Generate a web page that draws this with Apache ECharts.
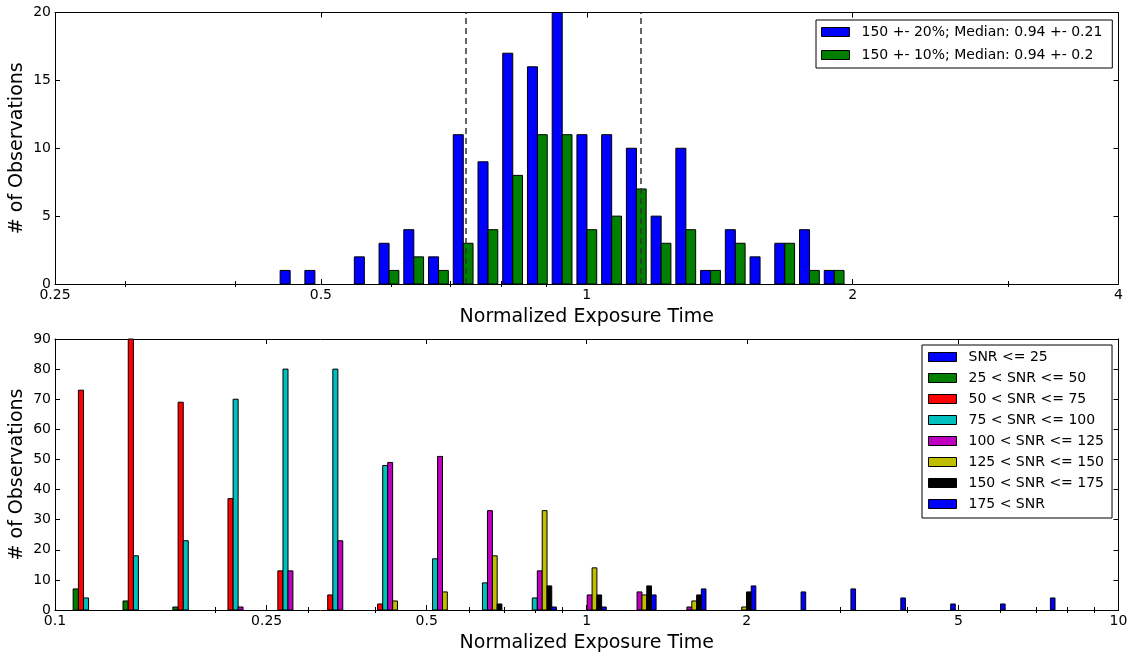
<!DOCTYPE html>
<html><head><meta charset="utf-8">
<script src="https://cdn.jsdelivr.net/npm/echarts@6/dist/echarts.min.js"></script>
<style>html,body{margin:0;padding:0;background:#fff}#c{width:1129px;height:657px}</style>
</head><body><div id="c"></div>
<script>
// ---------- Top panel: histogram (log-spaced bins) ----------
const topBinStart = 0.25, topBinEnd = 4, topBinCount = 43;
const topNames = ['150 +- 20%; Median: 0.94 +- 0.21', '150 +- 10%; Median: 0.94 +- 0.2'];
const topColors = ['#0000ff', '#008000'];
const topCounts20 = [0,0,0,0,0,0,0,0,0, 1,1,0,2,3,4,2,11,9,17,16,20,11,11,10,5,10,1,4,2,3,4,1, 0,0,0,0,0,0,0,0,0,0,0];
const topCounts10 = [0,0,0,0,0,0,0,0,0, 0,0,0,0,1,2,1,3,4,8,11,11,4,5,7,3,4,1,3,0,3,1,1, 0,0,0,0,0,0,0,0,0,0,0];
const topMedianLines = [0.726, 1.145];
const topMajorTicks = [0.25, 0.5, 1, 2, 4];
const topMinorTicks = [0.3, 0.4, 0.6, 0.7, 0.8, 0.9, 3];

// ---------- Bottom panel: histogram by SNR ----------
const botBinStart = 0.1032, botBinRatio = 1.241, botBinCount = 20;
const snrNames = ['SNR <= 25','25 < SNR <= 50','50 < SNR <= 75','75 < SNR <= 100','100 < SNR <= 125','125 < SNR <= 150','150 < SNR <= 175','175 < SNR'];
const snrColors = ['#0000ff','#008000','#ff0000','#00bfbf','#bf00bf','#bfbf00','#000000','#0000ff'];
const snr25  = [0,0,0,0,0,0,0,0,0,0,0,0,0,0,0,0,0,0,0,0];
const snr50  = [7,3,1,0,0,0,0,0,0,0,0,0,0,0,0,0,0,0,0,0];
const snr75  = [73,90,69,37,13,5,2,0,0,0,0,0,0,0,0,0,0,0,0,0];
const snr100 = [4,18,23,70,80,80,48,17,9,4,0,0,0,0,0,0,0,0,0,0];
const snr125 = [0,0,0,1,13,23,49,51,33,13,5,6,1,0,0,0,0,0,0,0];
const snr150 = [0,0,0,0,0,0,3,6,18,33,14,5,3,1,0,0,0,0,0,0];
const snr175 = [0,0,0,0,0,0,0,0,2,8,5,8,5,6,0,0,0,0,0,0];
const snrHigh= [0,0,0,0,0,0,0,0,0,1,1,5,7,8,6,7,4,2,2,4];
const snrSeries = [snr25, snr50, snr75, snr100, snr125, snr150, snr175, snrHigh];
const botMajorTicks = [0.1, 0.25, 0.5, 1, 2, 5, 10];
const botMinorTicks = [0.2, 0.3, 0.4, 0.6, 0.7, 0.8, 0.9, 3, 4, 6, 7, 8, 9];

// ---------- helpers ----------
const FONT = 'DejaVu Sans';
function topEdge(k){ return topBinStart * Math.pow(topBinEnd / topBinStart, k / topBinCount); }
function botEdge(k){ return botBinStart * Math.pow(botBinRatio, k); }
function binData(counts, edgeFn){ return counts.map((c, k) => [edgeFn(k), edgeFn(k + 1), c]); }

function barRenderer(idx, nx, color){
  return function(params, api){
    const a = api.value(0), b = api.value(1), v = api.value(2);
    if (!v) return null;
    const tw = b - a, dr = 0.8, w = dr * tw / nx;
    const left = a + 0.5 * tw - 0.5 * dr * tw + idx * w;
    const p0 = api.coord([left, v]);
    const p1 = api.coord([left + w, 0]);
    return { type: 'rect',
      shape: { x: p0[0], y: p0[1], width: p1[0] - p0[0], height: p1[1] - p0[1] },
      style: { fill: color, stroke: '#000', lineWidth: 1 } };
  };
}

function xAxes(gridIndex, min, max, major, minor){
  const common = { type: 'log', logBase: 10, gridIndex, min, max, splitLine: { show: false } };
  const line = { show: true, onZero: false, lineStyle: { color: '#000', width: 1 } };
  return [
    Object.assign({}, common, { position: 'bottom', axisLine: line,
      axisTick: { show: true, inside: true, length: 5, customValues: major, lineStyle: { color: '#000' } },
      axisLabel: { show: true, customValues: major, margin: 4, color: '#000', fontSize: 14, fontFamily: FONT,
        showMinLabel: true, showMaxLabel: true, hideOverlap: false, formatter: v => String(v) },
      name: 'Normalized Exposure Time', nameLocation: 'middle', nameGap: 24, nameMoveOverlap: false,
      nameTextStyle: { fontSize: 19, fontFamily: FONT, color: '#000' } }),
    Object.assign({}, common, { position: 'bottom', axisLine: { show: false },
      axisTick: { show: true, inside: true, length: 3, customValues: minor, lineStyle: { color: '#000' } },
      axisLabel: { show: false } }),
    Object.assign({}, common, { position: 'top', axisLine: line,
      axisTick: { show: true, inside: true, length: 5, customValues: major, lineStyle: { color: '#000' } },
      axisLabel: { show: false } }),
    Object.assign({}, common, { position: 'top', axisLine: { show: false },
      axisTick: { show: true, inside: true, length: 3, customValues: minor, lineStyle: { color: '#000' } },
      axisLabel: { show: false } })
  ];
}

function yAxes(gridIndex, max, interval){
  const line = { show: true, onZero: false, lineStyle: { color: '#000', width: 1 } };
  return [
    { type: 'value', gridIndex, position: 'left', min: 0, max, interval, splitLine: { show: false },
      axisLine: line, axisTick: { show: true, inside: true, length: 5, lineStyle: { color: '#000' } },
      axisLabel: { margin: 4, color: '#000', fontSize: 14, fontFamily: FONT, showMinLabel: true, showMaxLabel: true },
      name: '# of Observations', nameLocation: 'middle', nameRotate: 90, nameGap: 28, nameMoveOverlap: false,
      nameTextStyle: { fontSize: 19, fontFamily: FONT, color: '#000' } },
    { type: 'value', gridIndex, position: 'right', min: 0, max, interval, splitLine: { show: false },
      axisLine: line, axisTick: { show: true, inside: true, length: 5, lineStyle: { color: '#000' } },
      axisLabel: { show: false } }
  ];
}

const series = [];
[topCounts20, topCounts10].forEach((counts, i) => {
  const s = {
    type: 'custom', name: topNames[i], xAxisIndex: 0, yAxisIndex: 0,
    encode: { x: [0, 1], y: 2 },
    itemStyle: { color: topColors[i], borderColor: '#000', borderWidth: 1 },
    renderItem: barRenderer(i, 2, topColors[i]),
    data: binData(counts, topEdge)
  };
  if (i === 0) {
    s.markLine = { silent: true, symbol: ['none', 'none'], label: { show: false },
      lineStyle: { color: '#333', type: [6, 4], width: 1.5 },
      data: topMedianLines.map(v => ({ xAxis: v })) };
  }
  series.push(s);
});
snrSeries.forEach((counts, i) => {
  series.push({
    type: 'custom', name: snrNames[i], xAxisIndex: 4, yAxisIndex: 2,
    encode: { x: [0, 1], y: 2 },
    itemStyle: { color: snrColors[i], borderColor: '#000', borderWidth: 1 },
    renderItem: barRenderer(i, 8, snrColors[i]),
    data: binData(counts, botEdge)
  });
});

const legendItem = (n, c) => ({ name: n, icon: 'rect', itemStyle: { color: c, borderColor: '#000', borderWidth: 1 } });

const option = {
  animation: false,
  backgroundColor: '#fff',
  textStyle: { fontFamily: FONT },
  grid: [
    { left: 55, width: 1063.5, top: 12.5, height: 271.5, outerBoundsMode: 'none', containLabel: false },
    { left: 55, width: 1063.5, top: 339, height: 271, outerBoundsMode: 'none', containLabel: false }
  ],
  xAxis: [].concat(xAxes(0, 0.25, 4, topMajorTicks, topMinorTicks), xAxes(1, 0.1, 10, botMajorTicks, botMinorTicks)),
  yAxis: [].concat(yAxes(0, 20, 5), yAxes(1, 90, 10)),
  legend: [
    { orient: 'vertical', left: 816, top: 20, padding: [5, 10, 6, 5], itemWidth: 28, itemHeight: 9, itemGap: 9,
      borderColor: '#000', borderWidth: 1, backgroundColor: '#fff', selectedMode: false,
      textStyle: { fontSize: 14, fontFamily: FONT, color: '#000', padding: [0, 0, 0, 7] },
      data: topNames.map((n, i) => legendItem(n, topColors[i])) },
    { orient: 'vertical', left: 922, top: 345, padding: [5, 8, 7, 6], itemWidth: 28, itemHeight: 9, itemGap: 7,
      borderColor: '#000', borderWidth: 1, backgroundColor: '#fff', selectedMode: false,
      textStyle: { fontSize: 14, fontFamily: FONT, color: '#000', padding: [0, 0, 0, 7] },
      data: snrNames.map((n, i) => legendItem(n, snrColors[i])) }
  ],
  series
};
const chart = echarts.init(document.getElementById('c'), null, { renderer: 'canvas' });
chart.setOption(option);
</script></body></html>
